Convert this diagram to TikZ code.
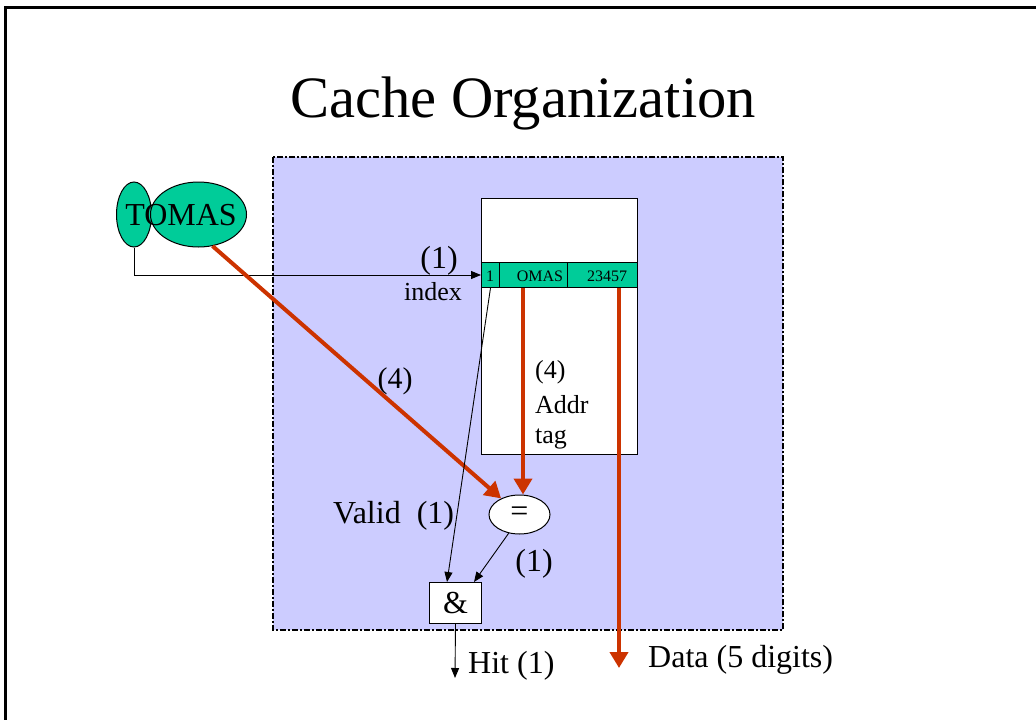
\documentclass[tikz,border=0pt]{standalone}
\usepackage{fontspec}
\setmainfont{Liberation Serif}
\usetikzlibrary{shapes.geometric,arrows.meta}
\definecolor{panel}{RGB}{204,204,255}
\definecolor{cellgreen}{RGB}{0,204,153}
\definecolor{flow}{RGB}{204,51,0}
\begin{document}
\begin{tikzpicture}[x=1pt,y=-1pt,
  big/.style={font=\fontsize{32}{38}\selectfont, inner sep=0},
  mid/.style={font=\fontsize{26}{31}\selectfont, inner sep=0},
  small/.style={font=\fontsize{16}{19}\selectfont, inner sep=0},
  thinarrow/.style={draw=black, line width=0.9pt, -{Triangle[length=10pt,width=8pt]}},
  redarrow/.style={draw=flow, line width=4pt, -{Triangle[length=16pt,width=18pt]}},
  cell/.style={draw=black, line width=1pt, fill=cellgreen, minimum height=25pt, inner sep=0, anchor=north west},
  blob/.style={ellipse, draw=black, line width=1pt, fill=cellgreen, inner sep=0}
]
\useasboundingbox (0,0) rectangle (1036,720);
% slide frame
\draw[line width=3pt] (5,740) -- (5,7) -- (1050,7);
% title
\node[anchor=base, inner sep=0, font=\fontsize{58.6}{70}\selectfont] (title) at (523,117) {Cache Organization};
% cache panel
\draw[fill=panel, line width=2pt, dash pattern=on 6pt off 2pt on 2pt off 2pt] (273,157) rectangle (783,630);
% cache memory
\node[draw=black, line width=1.2pt, fill=white, minimum width=156pt, minimum height=256pt, inner sep=0, anchor=north west] (mem) at (481,198) {};
\node[cell, minimum width=18pt] (vcell) at (481,262) {};
\node[cell, minimum width=68pt] (tcell) at (499,262) {};
\node[cell, minimum width=70pt] (dcell) at (567,262) {};
\node[small, anchor=base] (vtxt) at (490,281) {1};
\node[small, anchor=base] (ttxt) at (540,281) {OMAS};
\node[small, anchor=base] (dtxt) at (607,281) {23457};
% address
\node[blob, minimum width=35pt, minimum height=65pt] (idx) at (134,214.5) {};
\node[blob, minimum width=96pt, minimum height=65pt] (tag) at (198.5,214.5) {};
\node[big, anchor=base] (addr) at (181,225) {TOMAS};
% comparator and gate
\node[ellipse, draw=black, line width=1pt, fill=white, minimum width=61pt, minimum height=39pt, inner sep=0, font=\fontsize{32}{38}\selectfont] (eq) at (519.5,514.5) {=};
\node[draw=black, line width=1pt, fill=white, minimum width=52pt, minimum height=41pt, inner sep=0, font=\fontsize{32}{38}\selectfont] (and) at (455.5,603) {\&};
\coordinate (hit) at (455,678);
\coordinate (data) at (619,668);
% connectors
\draw[thinarrow] (idx.south) |- (vcell.west);
\draw[redarrow] (tag.-66) -- (eq);
\draw[redarrow, shorten >=0pt] (tcell.south -| 523,0) -- (eq.north -| 523,0);
\draw[redarrow] (dcell.south -| 619,0) -- (data);
\draw[thinarrow] (vcell.south) -- (and.north -| 447,0);
\draw[thinarrow] (eq.-120) -- (and.north -| 474,0);
\draw[thinarrow] (and.south) -- (hit);
% labels
\node[big, anchor=base] (l1) at (439,268) {(1)};
\node[mid, anchor=base] (lidx) at (433,300) {index};
\node[font=\fontsize{30}{36}\selectfont, inner sep=0, anchor=base] (l4) at (395,388) {(4)};
\node[mid, anchor=base west] (r4) at (535,378) {(4)};
\node[mid, anchor=base west] (raddr) at (535,413) {Addr};
\node[mid, anchor=base west] (rtag) at (535,443) {tag};
\node[big, anchor=base west] (lvalid) at (333,523) {Valid\ \ (1)};
\node[big, anchor=base] (leq) at (534,571) {(1)};
\node[big, anchor=base west] (lhit) at (468,673) {Hit (1)};
\node[big, anchor=base west] (ldata) at (648,667) {Data (5 digits)};
\end{tikzpicture}
\end{document}
